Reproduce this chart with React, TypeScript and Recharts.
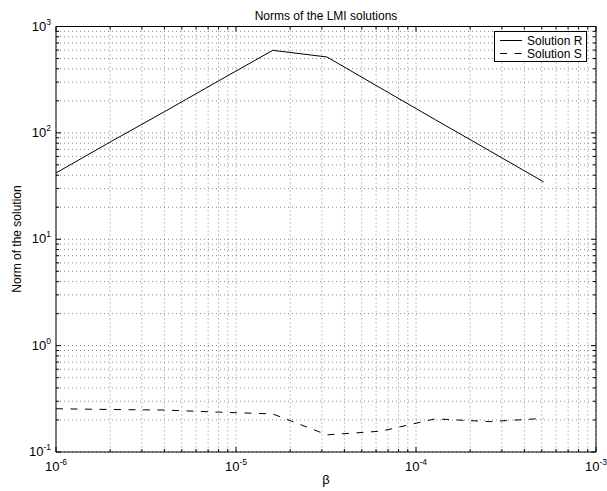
import { CartesianGrid, Legend, Line, LineChart, XAxis, YAxis } from "recharts";

const beta = [1e-6, 2e-6, 4e-6, 8e-6, 1.6e-5, 3.2e-5, 6.4e-5, 1.28e-4, 2.56e-4, 5.12e-4];
const normR = [42, 82, 158, 308, 597, 517, 262, 133, 68, 34.6];
const normS = [0.255, 0.251, 0.248, 0.237, 0.228, 0.145, 0.157, 0.205, 0.193, 0.207];

const xDecades = [1e-6, 1e-5, 1e-4, 1e-3];
const yDecades = [1e-1, 1e0, 1e1, 1e2, 1e3];
const minorSteps = [2, 3, 4, 5, 6, 7, 8, 9];

const FONT = '"Liberation Sans", Arial, Helvetica, sans-serif';
const W = 607;
const H = 491;

const data = beta.map((b, i) => ({ beta: b, r: normR[i], s: normS[i] }));

// decade ticks plus the 2..9 minor ticks between them
const withMinor = (decades: number[]) => [
  ...decades,
  ...decades.slice(0, -1).flatMap((d) => minorSteps.map((m) => m * d)),
].sort((a, b) => a - b);

const xTicks = withMinor(xDecades);
const yTicks = withMinor(yDecades);

const isDecade = (v: number) => Math.abs(Math.log10(v) - Math.round(Math.log10(v))) < 1e-6;
const MAJOR = 5;
const MINOR = 3;

function Pow10({ x, y, exp, anchor }: { x: number; y: number; exp: number; anchor: "middle" | "end" }) {
  return (
    <text x={x} y={y} textAnchor={anchor} fontFamily={FONT} fontSize={13} fill="#000">
      10
      <tspan dy={-6} fontSize={8.5}>
        {exp}
      </tspan>
    </text>
  );
}

function BottomTick(props: any) {
  const { x, y, payload } = props;
  const v = payload.value as number;
  const major = isDecade(v);
  return (
    <g>
      <line x1={x} x2={x} y1={y} y2={y - (major ? MAJOR : MINOR)} stroke="#000" />
      {major && <Pow10 x={x} y={y + 19} exp={Math.round(Math.log10(v))} anchor="middle" />}
    </g>
  );
}

function TopTick(props: any) {
  const { x, y, payload } = props;
  const major = isDecade(payload.value);
  return <line x1={x} x2={x} y1={y} y2={y + (major ? MAJOR : MINOR)} stroke="#000" />;
}

function LeftTick(props: any) {
  const { x, y, payload } = props;
  const v = payload.value as number;
  const major = isDecade(v);
  return (
    <g>
      <line x1={x} x2={x + (major ? MAJOR : MINOR)} y1={y} y2={y} stroke="#000" />
      {major && <Pow10 x={x - 5} y={y + 4} exp={Math.round(Math.log10(v))} anchor="end" />}
    </g>
  );
}

function RightTick(props: any) {
  const { x, y, payload } = props;
  const major = isDecade(payload.value);
  return <line x1={x} x2={x - (major ? MAJOR : MINOR)} y1={y} y2={y} stroke="#000" />;
}

function LegendBox() {
  return (
    <svg width={93} height={31} style={{ display: "block" }}>
      <rect x={0.5} y={0.5} width={92} height={30} fill="#fff" stroke="#000" />
      <line x1={6} x2={28} y1={9.5} y2={9.5} stroke="#000" />
      <text x={33} y={13.5} fontFamily={FONT} fontSize={12} fill="#000">
        Solution R
      </text>
      <line x1={6} x2={28} y1={22.5} y2={22.5} stroke="#000" strokeDasharray="7 7.5" />
      <text x={33} y={26.5} fontFamily={FONT} fontSize={12} fill="#000">
        Solution S
      </text>
    </svg>
  );
}

export default function App() {
  return (
    <div style={{ position: "absolute", left: 0, top: 0, width: W, height: H, background: "#fff" }}>
      <LineChart
        width={W}
        height={H}
        data={data}
        margin={{ top: 25.5, right: 10, bottom: 38, left: 55 }}
      >
        <CartesianGrid stroke="#888" strokeDasharray="1 3" />
        <XAxis
          dataKey="beta"
          type="number"
          scale="log"
          domain={[1e-6, 1e-3]}
          ticks={xTicks}
          interval={0}
          height={1}
          tickSize={0}
          tickMargin={0}
          tickLine={false}
          axisLine={{ stroke: "#000" }}
          tick={BottomTick}
          allowDataOverflow
        />
        <XAxis
          xAxisId="top"
          orientation="top"
          dataKey="beta"
          type="number"
          scale="log"
          domain={[1e-6, 1e-3]}
          ticks={xTicks}
          interval={0}
          height={1}
          tickSize={0}
          tickMargin={0}
          tickLine={false}
          axisLine={{ stroke: "#000" }}
          tick={TopTick}
          allowDataOverflow
        />
        <YAxis
          type="number"
          scale="log"
          domain={[0.1, 1000]}
          ticks={yTicks}
          interval={0}
          width={1}
          tickSize={0}
          tickMargin={0}
          tickLine={false}
          axisLine={{ stroke: "#000" }}
          tick={LeftTick}
          allowDataOverflow
        />
        <YAxis
          yAxisId="right"
          orientation="right"
          type="number"
          scale="log"
          domain={[0.1, 1000]}
          ticks={yTicks}
          interval={0}
          width={1}
          tickSize={0}
          tickMargin={0}
          tickLine={false}
          axisLine={{ stroke: "#000" }}
          tick={RightTick}
          allowDataOverflow
        />
        <Legend
          layout="vertical"
          align="center"
          verticalAlign="middle"
          wrapperStyle={{ left: 494, top: 31, width: 93, height: 31 }}
          content={() => <LegendBox />}
        />
        <Line
          dataKey="r"
          name="Solution R"
          type="linear"
          stroke="#000"
          strokeWidth={1}
          dot={false}
          isAnimationActive={false}
        />
        <Line
          dataKey="s"
          name="Solution S"
          type="linear"
          stroke="#000"
          strokeWidth={1}
          strokeDasharray="7 7.5"
          dot={false}
          isAnimationActive={false}
        />
      </LineChart>
      <svg
        width={W}
        height={H}
        style={{ position: "absolute", left: 0, top: 0, pointerEvents: "none" }}
      >
        <text x={326} y={20} textAnchor="middle" fontFamily={FONT} fontSize={12} fill="#000">
          Norms of the LMI solutions
        </text>
        <text x={326} y={484} textAnchor="middle" fontFamily={FONT} fontSize={13} fill="#000">
          β
        </text>
        <text
          x={0}
          y={0}
          transform="translate(21 239) rotate(-90)"
          textAnchor="middle"
          fontFamily={FONT}
          fontSize={12}
          fill="#000"
        >
          Norm of the solution
        </text>
      </svg>
    </div>
  );
}
